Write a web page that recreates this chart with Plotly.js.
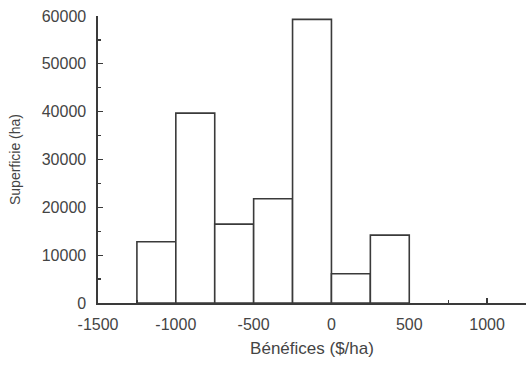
<!DOCTYPE html>
<html>
<head>
<meta charset="utf-8">
<script src="https://cdn.plot.ly/plotly-3.0.1.min.js"></script>
<style>html,body{margin:0;padding:0;background:#fff;}#chart{width:526px;height:369px;}</style>
</head>
<body>
<div id="chart"></div>
<script>
// Bin centres (profit, $/ha) and bin width
const binCenters = [-1125, -875, -625, -375, -125, 125, 375];
const binWidth = 250;
// Area (ha) per bin
const areas = [12800, 39700, 16500, 21800, 59300, 6100, 14200];
const xTickVals = [-1500, -1000, -500, 0, 500, 1000];
const xTickText = ["-1500", "-1000", "-500", "0", "500", "1000"];
const yTickVals = [0, 10000, 20000, 30000, 40000, 50000, 60000];
const yTickText = ["0", "10000", "20000", "30000", "40000", "50000", "60000"];

const ink = '#3a3a3a';
const txt = '#444';
const trace = {
  type: 'bar',
  x: binCenters,
  y: areas,
  width: binCenters.map(() => binWidth),
  marker: {color: '#ffffff', line: {color: ink, width: 1.6}},
  hoverinfo: 'skip'
};

const layout = {
  width: 526, height: 369,
  margin: {l: 98, r: 0, t: 16, b: 66},
  paper_bgcolor: '#fff', plot_bgcolor: '#fff',
  showlegend: false,
  bargap: 0,
  font: {family: 'Liberation Sans, Arial, sans-serif', size: 16, color: txt},
  xaxis: {
    range: [-1500, 1250],
    tickvals: xTickVals, ticktext: xTickText,
    tickfont: {size: 16, color: txt},
    ticklabelstandoff: 6,
    ticks: 'inside', ticklen: 5, tickcolor: ink, tickwidth: 1.2,
    minor: {dtick: 250, tick0: 0, ticks: 'inside', ticklen: 3, tickcolor: ink},
    showline: true, linecolor: ink, linewidth: 1.6,
    showgrid: false, zeroline: false,
    title: {text: 'Bénéfices ($/ha)', standoff: 10, font: {size: 17, color: txt}},
    fixedrange: true
  },
  yaxis: {
    range: [0, 60000],
    tickvals: yTickVals, ticktext: yTickText,
    tickfont: {size: 16, color: txt},
    ticklabelstandoff: 7,
    ticks: 'inside', ticklen: 5, tickcolor: ink, tickwidth: 1.2,
    minor: {dtick: 5000, ticks: 'inside', ticklen: 3, tickcolor: ink},
    showline: true, linecolor: ink, linewidth: 1.6,
    showgrid: false, zeroline: false,
    title: {text: 'Superficie (ha)', standoff: 18, font: {size: 14, color: txt}},
    fixedrange: true
  }
};

Plotly.newPlot('chart', [trace], layout, {staticPlot: true, displayModeBar: false});
</script>
</body>
</html>
